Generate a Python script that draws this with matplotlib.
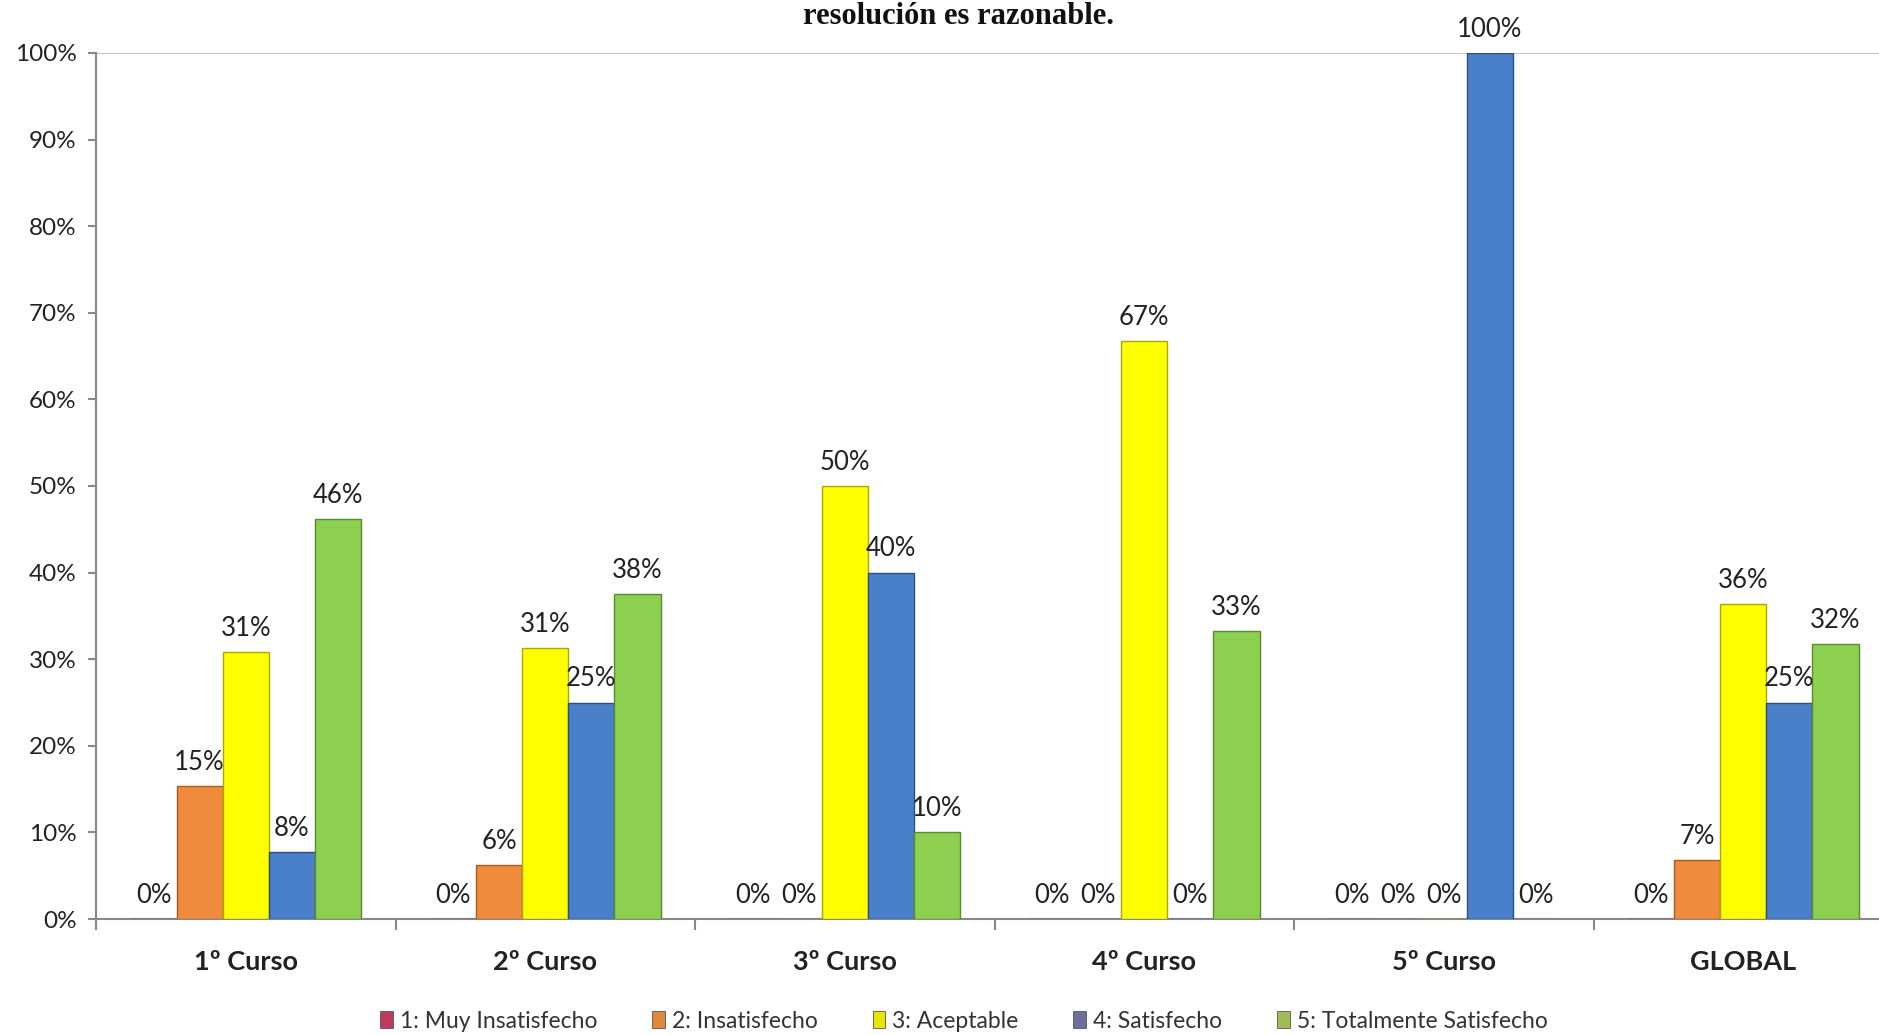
import matplotlib
matplotlib.use("Agg")
import matplotlib.pyplot as plt
import numpy as np
from matplotlib.patches import Patch

categories = ["1º Curso", "2º Curso", "3º Curso", "4º Curso", "5º Curso", "GLOBAL"]
series_names = ["1: Muy Insatisfecho", "2: Insatisfecho", "3: Aceptable",
                "4: Satisfecho", "5: Totalmente Satisfecho"]
muy_insatisfecho = [0, 0, 0, 0, 0, 0]
insatisfecho = [15.4, 6.25, 0, 0, 0, 6.8]
aceptable = [30.8, 31.25, 50, 66.7, 0, 36.4]
satisfecho = [7.7, 25, 40, 0, 100, 25]
totalmente = [46.2, 37.5, 10, 33.3, 0, 31.8]
yticks = [0, 10, 20, 30, 40, 50, 60, 70, 80, 90, 100]
title = "resolución es razonable."

series = [muy_insatisfecho, insatisfecho, aceptable, satisfecho, totalmente]
bar_colors = ["#C8385E", "#F08A3C", "#FFFF00", "#4A7FC9", "#8DCF4E"]
edge_colors = ["#7a2038", "#a85a20", "#a8a800", "#2d4f80", "#5a8a2e"]
legend_colors = ["#C0395A", "#E0893A", "#E6E600", "#6E6E9E", "#A3BB55"]

plt.rcParams['font.family'] = ['Lato', 'DejaVu Sans']

fig = plt.figure(figsize=(18.79, 10.35), dpi=100)
ax = fig.add_axes([96/1879, 1-919/1035, 1797/1879, (919-53)/1035])

n = len(categories)
bw = 0.154
x = np.arange(n) + 0.5
for i, (vals, c, ec) in enumerate(zip(series, bar_colors, edge_colors)):
    offs = (i - 2) * bw
    ax.bar(x + offs, vals, width=bw, color=c, edgecolor=ec, linewidth=1.0, zorder=3)
    for xi, v in zip(x + offs, vals):
        ax.annotate(f"{round(v):d}%", (xi, v), xytext=(0, 8), textcoords="offset points",
                    ha="center", va="bottom", fontsize=18.5, color="#222222", zorder=4)

ax.set_xlim(0, n)
ax.set_ylim(0, 100)
ax.set_yticks(yticks)
ax.set_yticklabels([f"{t}%" for t in yticks], fontsize=17.5, color="#222222")
ax.tick_params(axis='y', length=6, color="#888888", width=1.5, pad=8)

ax.set_xticks(x)
ax.set_xticklabels(categories, fontsize=19.5, fontweight="bold", color="#222222")
ax.tick_params(axis='x', which='major', length=0, pad=22)
ax.set_xticks(np.arange(n + 1), minor=True)
ax.tick_params(axis='x', which='minor', length=8, color="#888888", width=1.5)

ax.axhline(100, color="#BBBBBB", linewidth=1.2, zorder=1)
for s in ["top", "right"]:
    ax.spines[s].set_visible(False)
for s in ["left", "bottom"]:
    ax.spines[s].set_color("#888888")
    ax.spines[s].set_linewidth(1.5)

fig.text(0.51, 1 - 24/1035, title, ha="center", va="baseline", fontsize=22,
         fontweight="bold", family="Liberation Serif", color="#111111")

handles = [Patch(facecolor=c, edgecolor="#555555", linewidth=0.6) for c in legend_colors]
fig.legend(handles, series_names, loc="center", bbox_to_anchor=(0.513, 1 - 1021/1035),
           ncol=5, frameon=False, fontsize=16.5, handlelength=0.55, handleheight=0.75,
           handletextpad=0.3, columnspacing=2.4, labelcolor="#333333")

fig.savefig("out.png", dpi=100)
